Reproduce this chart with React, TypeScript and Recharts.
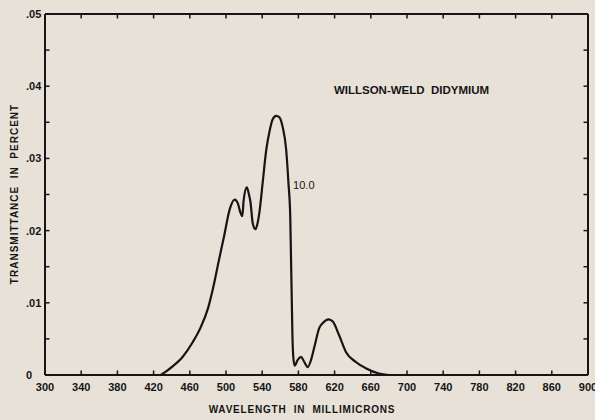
import React from 'react';
import { LineChart, Line, XAxis, YAxis, ReferenceDot, ReferenceLine } from 'recharts';

const wavelengths = [
  428, 440, 452, 463, 472, 480, 486, 492, 498, 504,
  509.5, 513, 515.7, 518, 519.5, 523, 525, 527, 529.7,
  532.5, 535, 537, 540.5, 544.5, 548, 551.5, 555.5, 559, 562.5,
  566.5, 569, 571, 571.8, 572.6, 573.4, 574.3, 575.8, 579.3, 583,
  586.5, 590.3, 594, 597.7, 603, 607, 613.5, 618, 625, 632.5,
  643.5, 655, 669, 680,
];
const transmittance = [
  0, 0.0011, 0.0025, 0.0045, 0.0066, 0.0092, 0.0122, 0.0158, 0.0193, 0.0229,
  0.0243, 0.0238, 0.0226, 0.022, 0.0242, 0.026, 0.0252, 0.024, 0.0209,
  0.0202, 0.0211, 0.0226, 0.0266, 0.0312, 0.0337, 0.0354, 0.0359, 0.0357, 0.0344,
  0.0312, 0.0266, 0.0219, 0.0165, 0.011, 0.0055, 0.0026, 0.0013, 0.0021, 0.0025,
  0.0018, 0.0011, 0.0021, 0.0039, 0.0065, 0.0072, 0.0077, 0.0074, 0.0055, 0.0032,
  0.0018, 0.0009, 0.0002, 0,
];
const xTicks = [300, 340, 380, 420, 460, 500, 540, 580, 620, 660, 700, 740, 780, 820, 860, 900];
const yTicks = [0, 0.005, 0.01, 0.015, 0.02, 0.025, 0.03, 0.035, 0.04, 0.045, 0.05];
const yTickLabels = ['0', '', '.01', '', '.02', '', '.03', '', '.04', '', '.05'];
const seriesLabel = '10.0';
const titleText = 'WILLSON-WELD\u00a0\u00a0DIDYMIUM';
const xTitle = 'WAVELENGTH\u00a0\u00a0IN\u00a0\u00a0MILLIMICRONS';
const yTitle = 'TRANSMITTANCE\u00a0\u00a0IN\u00a0\u00a0PERCENT';

const data = wavelengths.map((w, i) => ({ w, t: transmittance[i] }));

const INK = '#151515';
const FONT = "'Liberation Sans', Arial, sans-serif";

// plot frame (pixels) from the chart margins: left 45, right 595-7, top 14, bottom 420-45
const PL = 45;
const PR = 588;
const PT = 14;
const PB = 375;
const TICK = 4.5;

const XTick = (props: any) => {
  const { x, payload, index } = props;
  const edge = index === 0 || index === xTicks.length - 1;
  return (
    <g>
      {!edge && <line x1={x} x2={x} y1={PB} y2={PB - TICK} stroke={INK} strokeWidth={1.5} />}
      {!edge && <line x1={x} x2={x} y1={PT} y2={PT + TICK} stroke={INK} strokeWidth={1.5} />}
      <text x={x} y={387} dy="0.36em" textAnchor="middle" fill={INK} fontSize={11} fontWeight="bold" fontFamily={FONT}>
        {payload.value}
      </text>
    </g>
  );
};

const YTick = (props: any) => {
  const { y, payload, index } = props;
  const idx = yTicks.indexOf(payload.value);
  const label = yTickLabels[idx >= 0 ? idx : index] || '';
  const edge = idx === 0 || idx === yTicks.length - 1;
  return (
    <g>
      {!edge && <line x1={PL} x2={PL + TICK} y1={y} y2={y} stroke={INK} strokeWidth={1.5} />}
      {!edge && <line x1={PR} x2={PR - TICK} y1={y} y2={y} stroke={INK} strokeWidth={1.5} />}
      {label && (
        <text x={26} y={y} dy="0.36em" textAnchor="start" fill={INK} fontSize={11} fontWeight="bold" fontFamily={FONT}>
          {label}
        </text>
      )}
    </g>
  );
};

export default function App() {
  return (
    <div style={{ position: 'absolute', left: 0, top: 0, width: 595, height: 420, background: '#e7e1d7', overflow: 'hidden' }}>
      <LineChart width={595} height={420} data={data} margin={{ top: 14, right: 7, bottom: 0, left: 0 }}>
        <XAxis
          xAxisId="bottom"
          dataKey="w"
          type="number"
          domain={[300, 900]}
          ticks={xTicks}
          interval={0}
          height={45}
          allowDataOverflow
          axisLine={{ stroke: INK, strokeWidth: 2 }}
          tickLine={false}
          tick={<XTick />}
          label={() => (
            <text x={302} y={409} dy="0.36em" textAnchor="middle" fill={INK} fontSize={10} fontWeight="bold" fontFamily={FONT} letterSpacing={0.8}>
              {xTitle}
            </text>
          )}
        />
        <YAxis
          yAxisId="left"
          type="number"
          domain={[0, 0.05]}
          ticks={yTicks}
          interval={0}
          width={45}
          allowDataOverflow
          axisLine={{ stroke: INK, strokeWidth: 2 }}
          tickLine={false}
          tick={<YTick />}
          label={() => (
            <text transform="translate(14,194) rotate(-90)" dy="0.36em" textAnchor="middle" fill={INK} fontSize={10} fontWeight="bold" fontFamily={FONT} letterSpacing={1}>
              {yTitle}
            </text>
          )}
        />
        <ReferenceLine xAxisId="bottom" yAxisId="left" y={0.05} stroke={INK} strokeWidth={2} />
        <ReferenceLine xAxisId="bottom" yAxisId="left" x={900} stroke={INK} strokeWidth={2} />
        <Line
          xAxisId="bottom"
          yAxisId="left"
          type="monotone"
          dataKey="t"
          stroke={INK}
          strokeWidth={2.2}
          dot={false}
          activeDot={false}
          isAnimationActive={false}
        />
        <ReferenceDot
          xAxisId="bottom"
          yAxisId="left"
          x={705}
          y={0.0395}
          r={0}
          fill="none"
          stroke="none"
          label={{ value: titleText, position: 'center', fill: INK, fontSize: 11.5, fontWeight: 'bold', fontFamily: FONT }}
        />
        <ReferenceDot
          xAxisId="bottom"
          yAxisId="left"
          x={586}
          y={0.0263}
          r={0}
          fill="none"
          stroke="none"
          label={{ value: seriesLabel, position: 'center', fill: INK, fontSize: 11, fontFamily: FONT }}
        />
      </LineChart>
    </div>
  );
}
